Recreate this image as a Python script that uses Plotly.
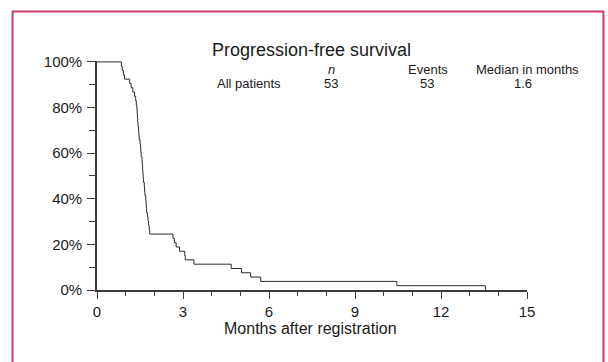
import plotly.graph_objects as go

# ---- data (Kaplan-Meier, 53 patients, 53 events) ----
event_months = [0.85, 0.88, 0.92, 0.96,
                1.14, 1.19, 1.25, 1.31,
                1.35, 1.37,
                1.39, 1.40, 1.41, 1.42, 1.43,
                1.45, 1.46, 1.47,
                1.50, 1.52, 1.53, 1.54,
                1.57, 1.58, 1.59, 1.60, 1.61, 1.62,
                1.65, 1.66, 1.67,
                1.70, 1.71, 1.72, 1.73,
                1.76, 1.78, 1.80,
                1.82, 1.84,
                2.65, 2.70, 2.76, 2.88, 3.06, 3.08, 3.38,
                4.68, 5.04, 5.36, 5.71, 10.46, 13.55]
survival_pct = [98.11, 96.23, 94.34, 92.45, 90.57, 88.68, 86.79, 84.91, 83.02, 81.13,
                79.25, 77.36, 75.47, 73.58, 71.70, 69.81, 67.92, 66.04, 64.15, 62.26,
                60.38, 58.49, 56.60, 54.72, 52.83, 50.94, 49.06, 47.17, 45.28, 43.40,
                41.51, 39.62, 37.74, 35.85, 33.96, 32.08, 30.19, 28.30, 26.42, 24.53,
                22.64, 20.75, 18.87, 16.98, 15.09, 13.21, 11.32, 9.43, 7.55, 5.66,
                3.77, 1.89, 0.0]
x_ticks = [0, 3, 6, 9, 12, 15]
y_ticks = [0, 20, 40, 60, 80, 100]
y_tick_labels = ["0%", "20%", "40%", "60%", "80%", "100%"]
chart_title = "Progression-free survival"
x_title = "Months after registration"
table_header = ["", "n", "Events", "Median in months"]
table_row = ["All patients", "53", "53", "1.6"]

W, H = 608, 362
L, R, T, B = 97, 81, 61, 72
PW, PH = W - L - R, H - T - B
FONT = "Liberation Sans, Arial, sans-serif"
TXT = "#1a1a1a"
AX = "#3c3c3c"


def px(x):
    return (x - L) / PW


def py(y):
    return 1 - (y - T) / PH


fig = go.Figure()
fig.add_trace(go.Scatter(
    x=[0] + event_months, y=[100] + survival_pct,
    mode="lines", line=dict(shape="hv", color="#2a2a2a", width=1),
    hoverinfo="skip", showlegend=False))

fig.update_layout(
    width=W, height=H, margin=dict(l=L, r=R, t=T, b=B),
    paper_bgcolor="white", plot_bgcolor="white",
    font=dict(family=FONT, color=TXT, size=15),
    xaxis=dict(range=[0, 15], tickvals=x_ticks, ticks="outside", ticklen=7,
               tickwidth=1.3, tickcolor=AX, showline=True, linecolor=AX,
               linewidth=1.6, showgrid=False, zeroline=False,
               tickfont=dict(size=15, family=FONT, color=TXT),
               minor=dict(dtick=1, ticks="outside", ticklen=4, tickwidth=1.2,
                          tickcolor=AX, showgrid=False)),
    yaxis=dict(range=[0, 100.4], tickvals=y_ticks, ticktext=y_tick_labels,
               ticks="outside", ticklen=8, tickwidth=1.3, tickcolor=AX,
               ticklabelstandoff=2,
               showline=True, linecolor=AX, linewidth=1.6, showgrid=False,
               zeroline=False, tickfont=dict(size=15, family=FONT, color=TXT),
               minor=dict(dtick=10, ticks="outside", ticklen=6, tickwidth=1.2,
                          tickcolor=AX, showgrid=False)),
)

ann = []
ann.append(dict(text=chart_title, x=px(311), y=py(50), font=dict(size=18)))
ann.append(dict(text=x_title, x=px(310), y=py(328), font=dict(size=16)))
# table header
head_x = [None, 331, 428, 527]
for t, xx in zip(table_header, head_x):
    if not t:
        continue
    txt = "<i>%s</i>" % t if t == "n" else t
    ann.append(dict(text=txt, x=px(xx), y=py(69), font=dict(size=13)))
row_x = [248.5, 331, 427, 523]
for t, xx in zip(table_row, row_x):
    ann.append(dict(text=t, x=px(xx), y=py(83), font=dict(size=13)))

for a in ann:
    a.update(xref="paper", yref="paper", showarrow=False,
             xanchor="center", yanchor="middle", borderpad=0)
fig.update_layout(annotations=ann)

# pink frame (top, left, right)
FR = "#cc3a66"
fig.add_shape(type="line", xref="paper", yref="paper", x0=px(12), x1=px(604),
              y0=py(11.5), y1=py(11.5), line=dict(color=FR, width=2))
fig.add_shape(type="line", xref="paper", yref="paper", x0=px(12.5), x1=px(12.5),
              y0=py(11), y1=py(362), line=dict(color=FR, width=2))
fig.add_shape(type="line", xref="paper", yref="paper", x0=px(603.5), x1=px(603.5),
              y0=py(11), y1=py(362), line=dict(color=FR, width=2))

fig.write_html("out.html")
